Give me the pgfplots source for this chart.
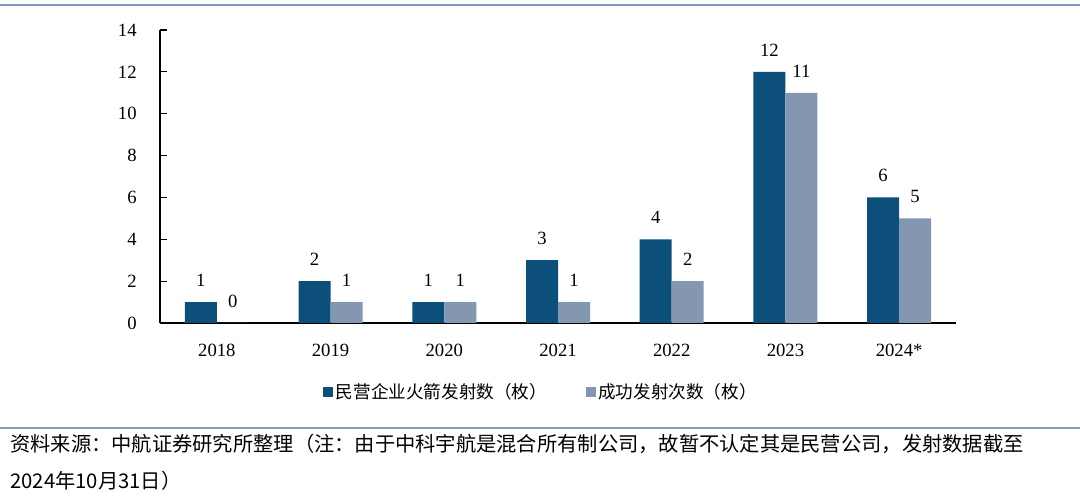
\documentclass[border=0pt]{standalone}
\usepackage{pgfplots}
\pgfplotsset{compat=1.18}
\usepackage{fontspec}
\setmainfont{Liberation Serif}
\newfontfamily\cjk{Noto Sans CJK SC}
\definecolor{darkbar}{RGB}{11,79,122}
\definecolor{lightbar}{RGB}{132,151,176}
\definecolor{rulec}{RGB}{127,155,192}
\begin{document}
\begin{tikzpicture}[x=0.75pt,y=0.75pt]
\useasboundingbox (0,0) rectangle (1080,502);
\draw[rulec, line width=2.2pt] (0,497) -- (1080,497);
\draw[rulec, line width=1.5pt] (0,74) -- (1080,74);
\coordinate (O) at (160,179);
\begin{axis}[
  at={(O)}, anchor=south west,
  scale only axis, width=597pt, height=219.75pt,
  ybar=0pt, bar width=24pt,
  xmin=-0.5, xmax=6.5, ymin=0, ymax=14,
  xtick={0,1,2,3,4,5,6}, xticklabels={2018,2019,2020,2021,2022,2023,2024*},
  ytick={0,2,...,14},
  axis x line*=bottom, axis y line*=left,
  axis line style={-, black, line width=0.8pt},
  major x tick style={draw=none},
  tick align=inside,
  ytick style={black, line width=0.8pt}, major tick length=5pt,
  ticklabel style={font=\fontsize{14}{16}\selectfont},
  yticklabel style={xshift=-14pt},
  xticklabel style={yshift=-12pt},
  /pgf/number format/assume math mode=true,
  nodes near coords,
  nodes near coords style={font=\fontsize{14}{16}\selectfont, anchor=south, yshift=8pt},
  legend style={at={(0.479,-0.235)}, anchor=center, draw=none, legend columns=2,
    font=\cjk\fontsize{13.2}{15}\selectfont,
    /tikz/every even column/.append style={column sep=27pt}},
  legend image code/.code={\fill[#1] (0pt,-3.75pt) rectangle (7.5pt,3.75pt);},
]
\addplot[fill=darkbar, draw=none] coordinates {(0,1) (1,2) (2,1) (3,3) (4,4) (5,12) (6,6)};
\addplot[fill=lightbar, draw=none] coordinates {(0,0) (1,1) (2,1) (3,1) (4,2) (5,11) (6,5)};
\legend{民营企业火箭发射数（枚）, 成功发射次数（枚）}
\end{axis}
\node[anchor=west, inner sep=0pt, font=\cjk\fontsize{15.2}{18}\selectfont] at (10,58) {资料来源：中航证券研究所整理（注：由于中科宇航是混合所有制公司，故暂不认定其是民营公司，发射数据截至};
\node[anchor=west, inner sep=0pt, font=\cjk\fontsize{15.2}{18}\selectfont] at (10,21) {2024年10月31日）};
\end{tikzpicture}
\end{document}
